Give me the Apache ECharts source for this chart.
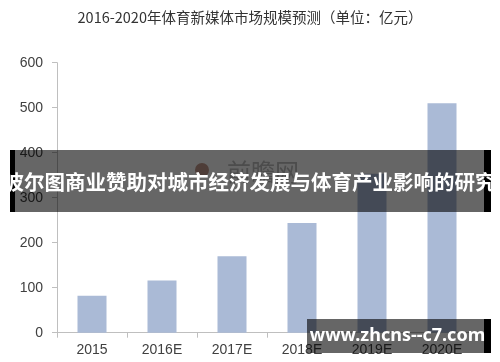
<!DOCTYPE html>
<html>
<head>
<meta charset="utf-8">
<script src="https://cdn.jsdelivr.net/npm/echarts@6/dist/echarts.min.js"></script>
<style>
  html, body { margin: 0; padding: 0; background: #ffffff; }
  #chart { width: 500px; height: 362px; }
</style>
</head>
<body>
<div id="chart"></div>
<script>
// 体育新媒体市场规模（亿元）
const categories = ['2015', '2016E', '2017E', '2018E', '2019E', '2020E'];
const marketSize = [82, 116, 170, 244, 353, 510];
const yTicks = [0, 100, 200, 300, 400, 500, 600];

const titleText = '2016-2020年体育新媒体市场规模预测（单位：亿元）';
const bannerText = '波尔图商业赞助对城市经济发展与体育产业影响的研究';
const siteText = 'www.zhcns--c7.com';

const chart = echarts.init(document.getElementById('chart'), null, { renderer: 'canvas' });

const axisColor = '#bfbfbf';
const labelColor = '#404040';

chart.setOption({
  backgroundColor: '#ffffff',
  animation: false,
  title: {
    text: titleText,
    left: 'center',
    top: 5,
    textStyle: {
      fontFamily: '"Noto Sans CJK SC", sans-serif',
      fontSize: 14.5,
      fontWeight: 'normal',
      color: '#333333'
    }
  },
  grid: { left: 57, right: 23, top: 62.7, bottom: 29.3, containLabel: false },
  xAxis: {
    type: 'category',
    data: categories,
    axisLine: { lineStyle: { color: axisColor, width: 1 } },
    axisTick: { show: true, length: 5, lineStyle: { color: axisColor } },
    axisLabel: {
      margin: 10,
      color: labelColor,
      fontSize: 14,
      fontFamily: '"Liberation Sans", Arial, sans-serif'
    }
  },
  yAxis: {
    type: 'value',
    min: yTicks[0],
    max: yTicks[yTicks.length - 1],
    interval: yTicks[1] - yTicks[0],
    axisLine: { show: true, lineStyle: { color: axisColor, width: 1 } },
    axisTick: { show: true, length: 5, lineStyle: { color: axisColor } },
    splitLine: { show: false },
    axisLabel: {
      margin: 14,
      color: labelColor,
      fontSize: 14,
      fontFamily: '"Liberation Sans", Arial, sans-serif'
    }
  },
  series: [{
    type: 'bar',
    data: marketSize,
    barWidth: 29,
    itemStyle: { color: '#aabad6' }
  }],
  graphic: [
    // faint site logo behind the banner
    {
      type: 'circle', z: 90,
      shape: { cx: 202, cy: 170, r: 7 },
      style: { fill: '#c49a8c' }
    },
    {
      type: 'text', z: 90,
      x: 263, y: 172,
      style: {
        text: '前瞻网',
        fill: '#bdbdbd',
        font: '24px "Noto Sans CJK SC", sans-serif',
        textAlign: 'center',
        textVerticalAlign: 'middle'
      }
    },
    // banner
    {
      type: 'rect', z: 100,
      shape: { x: 10, y: 150, width: 481, height: 62 },
      style: { fill: 'rgba(0,0,0,0.6)' }
    },
    {
      type: 'rect', z: 100,
      shape: { x: 10, y: 150, width: 5, height: 62 },
      style: { fill: '#000000' }
    },
    {
      type: 'rect', z: 100,
      shape: { x: 484, y: 150, width: 7, height: 62 },
      style: { fill: '#000000' }
    },
    {
      type: 'text', z: 101,
      x: 249.5, y: 182,
      style: {
        text: bannerText,
        fill: '#ffffff',
        font: 'bold 20.5px "Noto Sans CJK SC", sans-serif',
        textAlign: 'center',
        textVerticalAlign: 'middle'
      }
    },
    // site strip, bottom right
    {
      type: 'rect', z: 100,
      shape: { x: 307, y: 319, width: 177, height: 34 },
      style: { fill: 'rgba(0,0,0,0.6)' }
    },
    {
      type: 'rect', z: 100,
      shape: { x: 484, y: 319, width: 7, height: 34 },
      style: { fill: '#000000' }
    },
    {
      type: 'text', z: 101,
      x: 397.5, y: 336,
      style: {
        text: siteText,
        fill: '#ffffff',
        font: 'bold 18px "Noto Sans", "Open Sans", sans-serif',
        textAlign: 'center',
        textVerticalAlign: 'middle'
      }
    }
  ]
});
</script>
</body>
</html>
